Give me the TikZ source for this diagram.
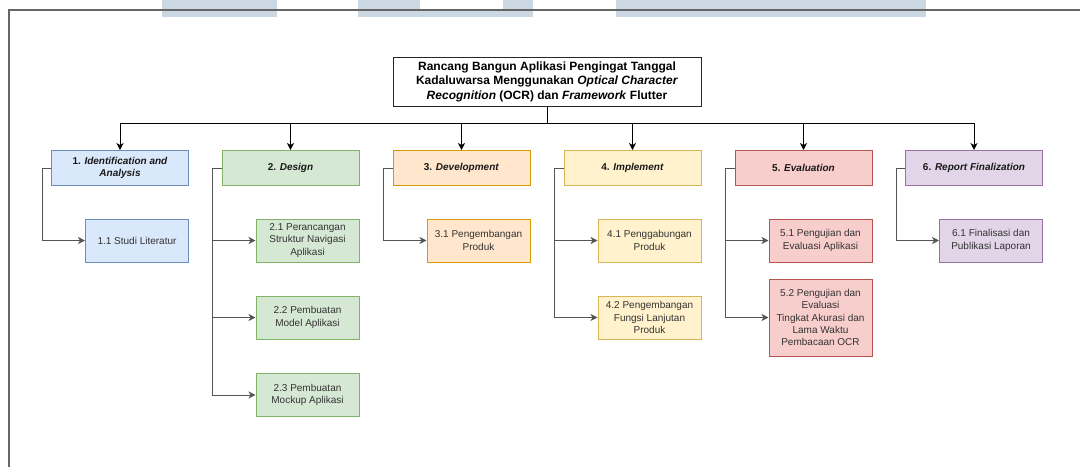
\documentclass[tikz,border=0pt]{standalone}
\usepackage{fontspec}
\setmainfont{Liberation Sans}
\usetikzlibrary{arrows.meta}

% box fill / stroke pairs
\definecolor{bF}{HTML}{DAE8FC}\definecolor{bS}{HTML}{6C8EBF}
\definecolor{gF}{HTML}{D5E8D4}\definecolor{gS}{HTML}{82B366}
\definecolor{oF}{HTML}{FFE6CC}\definecolor{oS}{HTML}{D79B00}
\definecolor{yF}{HTML}{FFF2CC}\definecolor{yS}{HTML}{D6B656}
\definecolor{rF}{HTML}{F8CECC}\definecolor{rS}{HTML}{B85450}
\definecolor{pF}{HTML}{E1D5E7}\definecolor{pS}{HTML}{9673A6}
\definecolor{wmark}{RGB}{203,215,227}
\definecolor{frameC}{HTML}{666666}
\definecolor{subtxt}{HTML}{333333}
\definecolor{sideC}{HTML}{555555}

\tikzset{
  lvl/.style={draw=#1S, fill=#1F, line width=1pt, minimum width=137pt,
    minimum height=35pt, inner sep=0pt, align=center,
    font=\fontsize{10}{12.2}\selectfont\bfseries, text=black!90},
  sub/.style={draw=#1S, fill=#1F, line width=1pt, minimum width=103pt,
    minimum height=43pt, inner sep=0pt, align=center,
    font=\fontsize{10}{12.2}\selectfont, text=subtxt},
  titlebox/.style={draw=black!85, fill=white, line width=1pt,
    minimum width=308pt, minimum height=49pt, inner sep=0pt, align=center,
    font=\fontsize{12}{14.4}\selectfont\bfseries},
  tip/.style={-{Stealth[length=7pt,width=7pt,inset=2pt]}},
  downarrow/.style={tip, line width=1pt, draw=black},
  sidearrow/.style={tip, line width=1pt, draw=sideC},
}

\begin{document}
\begin{tikzpicture}[x=1pt,y=-1pt]
\useasboundingbox (0,0) rectangle (1080,467);

% faint band shapes along the top edge
\fill[wmark] (162,0) rectangle (277,17);
\fill[wmark] (358,0) rectangle (420,17);
\fill[wmark] (420,10) rectangle (503,17);
\fill[wmark] (503,0) rectangle (533,17);
\fill[wmark] (616,0) rectangle (926,17);

% page frame
\draw[frameC, line width=1.5pt] (9,467) -- (9,10) -- (1080,10);

% title
\node[titlebox] (title) at (547,81.5) {Rancang Bangun Aplikasi Pengingat Tanggal\\
  Kadaluwarsa Menggunakan \textit{Optical Character}\\
  \textit{Recognition} (OCR) dan \textit{Framework} Flutter};

% first level
\node[lvl=b] (l1) at (120,168)   {1. \textit{Identification and}\\\textit{Analysis}};
\node[lvl=g] (l2) at (290.5,168) {2. \textit{Design}};
\node[lvl=o] (l3) at (461.5,168) {3. \textit{Development}};
\node[lvl=y] (l4) at (632.5,168) {4. \textit{Implement}};
\node[lvl=r] (l5) at (803.5,168) {5. \textit{Evaluation}};
\node[lvl=p] (l6) at (974,168)   {6. \textit{Report Finalization}};

% second level
\node[sub=b] (c11) at (137,240.5)   {1.1 Studi Literatur};
\node[sub=g] (c21) at (307.5,240.5) {2.1 Perancangan\\Struktur Navigasi\\Aplikasi};
\node[sub=g] (c22) at (307.5,317.5) {2.2 Pembuatan\\Model Aplikasi};
\node[sub=g] (c23) at (307.5,395)   {2.3 Pembuatan\\Mockup Aplikasi};
\node[sub=o] (c31) at (478.5,240.5) {3.1 Pengembangan\\Produk};
\node[sub=y] (c41) at (649.5,240.5) {4.1 Penggabungan\\Produk};
\node[sub=y] (c42) at (649.5,317.5) {4.2 Pengembangan\\Fungsi Lanjutan\\Produk};
\node[sub=r] (c51) at (820.5,240.5) {5.1 Pengujian dan\\Evaluasi Aplikasi};
\node[sub=r, minimum height=77pt] (c52) at (820.5,317.5)
  {5.2 Pengujian dan\\Evaluasi\\Tingkat Akurasi dan\\Lama Waktu\\Pembacaan OCR};
\node[sub=p] (c61) at (991,240.5)   {6.1 Finalisasi dan\\Publikasi Laporan};

% title to first level
\coordinate (bus) at (547,123);
\draw[line width=1pt] (title.south) -- (bus);
\foreach \n in {l1,l2,l3,l4,l5,l6}
  \draw[downarrow] (bus) -| (\n.north);

% first level to second level
\foreach \p/\c in {l1/c11,l2/c21,l2/c22,l2/c23,l3/c31,l4/c41,l4/c42,l5/c51,l5/c52,l6/c61}
  \draw[sidearrow] (\p.west) -- ++(-9,0) |- (\c.west);
\end{tikzpicture}
\end{document}
